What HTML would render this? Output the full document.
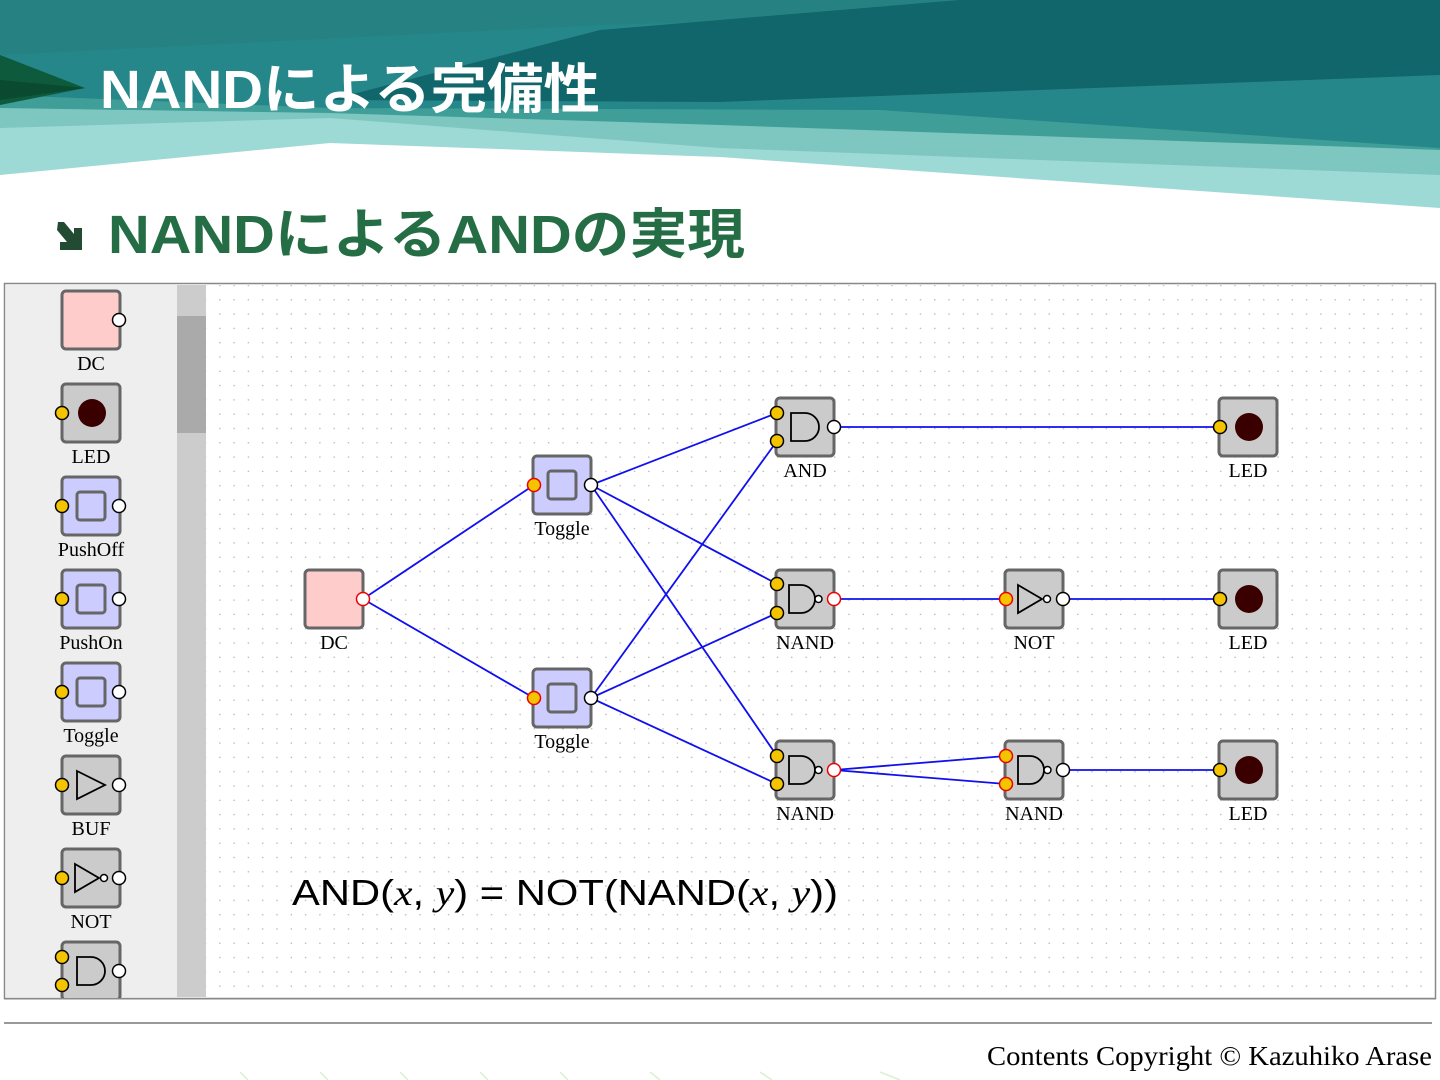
<!DOCTYPE html>
<html><head><meta charset="utf-8"><style>html,body{margin:0;padding:0;background:#fff}svg{display:block}</style></head>
<body>
<svg width="1440" height="1080" viewBox="0 0 1440 1080" xmlns="http://www.w3.org/2000/svg">
<defs>
<pattern id="dots" x="219" y="299" width="14.3" height="14.3" patternUnits="userSpaceOnUse"><circle cx="0.8" cy="0.8" r="0.8" fill="#b8b8b8"/></pattern>
<clipPath id="sb"><rect x="5" y="285" width="201" height="713"/></clipPath>
<g id="box"><rect x="-29" y="-29" width="58" height="58" rx="4" fill="#cbcbcb" stroke="#666" stroke-width="3"/></g>
<g id="and"><path d="M-14,-14 H0 A14,14 0 0 1 0,14 H-14 Z" fill="none" stroke="#000" stroke-width="1.8"/></g>
<g id="nand"><path d="M-16,-14 H-4 A14,14 0 0 1 -4,14 H-16 Z" fill="none" stroke="#000" stroke-width="1.8"/><circle cx="13.5" cy="0" r="3.5" fill="#fff" stroke="#000" stroke-width="1.5"/></g>
<g id="not"><path d="M-16,-14 L8,0 L-16,14 Z" fill="none" stroke="#000" stroke-width="1.8"/><circle cx="13" cy="0" r="3.5" fill="#fff" stroke="#000" stroke-width="1.5"/></g>
<g id="buf"><path d="M-14,-14 L14,0 L-14,14 Z" fill="none" stroke="#000" stroke-width="1.8"/></g>
<g id="tog"><rect x="-29" y="-29" width="58" height="58" rx="4" fill="#ccccff" stroke="#666" stroke-width="3"/><rect x="-14" y="-14" width="28" height="28" rx="3" fill="#ccccff" stroke="#666" stroke-width="3"/></g>
<g id="dc"><rect x="-29" y="-29" width="58" height="58" rx="4" fill="#ffcccc" stroke="#666" stroke-width="3"/></g>
<g id="led"><rect x="-29" y="-29" width="58" height="58" rx="4" fill="#cbcbcb" stroke="#666" stroke-width="3"/><circle cx="1" cy="0" r="14" fill="#3a0000"/></g>
<circle id="pin" r="6.5" fill="#f5c400" stroke="#000" stroke-width="1.5"/>
<circle id="pinr" r="6.5" fill="#f5c400" stroke="#e00" stroke-width="1.5"/>
<circle id="pout" r="6.5" fill="#fff" stroke="#000" stroke-width="1.5"/>
<circle id="poutr" r="6.5" fill="#fff" stroke="#e00" stroke-width="1.5"/>
</defs>

<!-- header -->
<polygon points="0,0 1440,0 1440,208 720,157 330,143 0,175" fill="#9dd9d5"/>
<polygon points="0,0 1440,0 1440,175 720,148 330,118 0,128" fill="#7ec6c0"/>
<polygon points="0,0 1440,0 1440,150 720,125 330,113 0,108" fill="#3f9e97"/>
<polygon points="0,0 1440,0 1440,148 880,110 330,108 0,95" fill="#258789"/>
<polygon points="0,0 1440,0 600,25 0,55" fill="#258182"/>
<polygon points="330,100 600,30 960,0 1440,0 1440,75 720,102" fill="#10666a"/>
<polygon points="0,55 85,88 0,105" fill="#0e5a3c"/>
<polygon points="0,80 85,88 0,100" fill="#0a4a30"/>
<text x="100" y="108" font-family="'Liberation Sans','Noto Sans CJK JP',sans-serif" font-weight="bold" font-size="54" fill="#fff" textLength="500" lengthAdjust="spacingAndGlyphs">NANDによる完備性</text>

<!-- subtitle -->
<polygon points="58,222 64,222 74,234 74,228 82,228 82,250 60,250 60,242 67,242 57,230" fill="#234a32"/>
<text x="108" y="253" font-family="'Liberation Sans','Noto Sans CJK JP',sans-serif" font-weight="bold" font-size="54" fill="#256e45" textLength="637" lengthAdjust="spacingAndGlyphs">NANDによるANDの実現</text>

<!-- canvas frame -->
<rect x="4.5" y="283.5" width="1431" height="715" fill="#fff" stroke="#888" stroke-width="1.5"/>
<rect x="206" y="285" width="1228" height="712" fill="url(#dots)"/>
<rect x="6" y="285" width="171" height="712" fill="#eeeeee"/>
<rect x="177" y="285" width="29" height="712" fill="#cccccc"/>
<rect x="177" y="316" width="29" height="117" fill="#aaaaaa"/>

<!-- sidebar -->
<g clip-path="url(#sb)" font-family="'Liberation Serif',serif" font-size="20" text-anchor="middle" fill="#000">
<use href="#dc" x="91" y="320"/><use href="#pout" x="119" y="320"/><text x="91" y="370">DC</text>
<use href="#led" x="91" y="413"/><use href="#pin" x="62" y="413"/><text x="91" y="463">LED</text>
<use href="#tog" x="91" y="506"/><use href="#pin" x="62" y="506"/><use href="#pout" x="119" y="506"/><text x="91" y="556">PushOff</text>
<use href="#tog" x="91" y="599"/><use href="#pin" x="62" y="599"/><use href="#pout" x="119" y="599"/><text x="91" y="649">PushOn</text>
<use href="#tog" x="91" y="692"/><use href="#pin" x="62" y="692"/><use href="#pout" x="119" y="692"/><text x="91" y="742">Toggle</text>
<use href="#box" x="91" y="785"/><use href="#buf" x="91" y="785"/><use href="#pin" x="62" y="785"/><use href="#pout" x="119" y="785"/><text x="91" y="835">BUF</text>
<use href="#box" x="91" y="878"/><use href="#not" x="91" y="878"/><use href="#pin" x="62" y="878"/><use href="#pout" x="119" y="878"/><text x="91" y="928">NOT</text>
<use href="#box" x="91" y="971"/><use href="#and" x="91" y="971"/><use href="#pin" x="62" y="957"/><use href="#pin" x="62" y="985"/><use href="#pout" x="119" y="971"/>
</g>
<rect x="4" y="998" width="1432" height="1.5" fill="#888"/>

<!-- components -->
<g font-family="'Liberation Serif',serif" font-size="20" text-anchor="middle" fill="#000">
<use href="#dc" x="334" y="599"/><text x="334" y="649">DC</text>
<use href="#tog" x="562" y="485"/><text x="562" y="535">Toggle</text>
<use href="#tog" x="562" y="698"/><text x="562" y="748">Toggle</text>
<use href="#box" x="805" y="427"/><use href="#and" x="805" y="427"/><text x="805" y="477">AND</text>
<use href="#box" x="805" y="599"/><use href="#nand" x="805" y="599"/><text x="805" y="649">NAND</text>
<use href="#box" x="805" y="770"/><use href="#nand" x="805" y="770"/><text x="805" y="820">NAND</text>
<use href="#box" x="1034" y="599"/><use href="#not" x="1034" y="599"/><text x="1034" y="649">NOT</text>
<use href="#box" x="1034" y="770"/><use href="#nand" x="1034" y="770"/><text x="1034" y="820">NAND</text>
<use href="#led" x="1248" y="427"/><text x="1248" y="477">LED</text>
<use href="#led" x="1248" y="599"/><text x="1248" y="649">LED</text>
<use href="#led" x="1248" y="770"/><text x="1248" y="820">LED</text>
</g>

<!-- wires -->
<g stroke="#1010ee" stroke-width="1.8" fill="none">
<line x1="363" y1="599" x2="534" y2="485"/>
<line x1="363" y1="599" x2="534" y2="698"/>
<line x1="591" y1="485" x2="777" y2="413"/>
<line x1="591" y1="485" x2="777" y2="584"/>
<line x1="591" y1="485" x2="777" y2="756"/>
<line x1="591" y1="698" x2="777" y2="441"/>
<line x1="591" y1="698" x2="777" y2="613"/>
<line x1="591" y1="698" x2="777" y2="784"/>
<line x1="834" y1="427" x2="1220" y2="427"/>
<line x1="834" y1="599" x2="1006" y2="599"/>
<line x1="1063" y1="599" x2="1220" y2="599"/>
<line x1="834" y1="770" x2="1006" y2="756"/>
<line x1="834" y1="770" x2="1006" y2="784"/>
<line x1="1063" y1="770" x2="1220" y2="770"/>
</g>

<!-- ports -->
<use href="#poutr" x="363" y="599"/>
<use href="#pinr" x="534" y="485"/><use href="#pout" x="591" y="485"/>
<use href="#pinr" x="534" y="698"/><use href="#pout" x="591" y="698"/>
<use href="#pin" x="777" y="413"/><use href="#pin" x="777" y="441"/><use href="#pout" x="834" y="427"/>
<use href="#pin" x="777" y="584"/><use href="#pin" x="777" y="613"/><use href="#poutr" x="834" y="599"/>
<use href="#pin" x="777" y="756"/><use href="#pin" x="777" y="784"/><use href="#poutr" x="834" y="770"/>
<use href="#pinr" x="1006" y="599"/><use href="#pout" x="1063" y="599"/>
<use href="#pinr" x="1006" y="756"/><use href="#pinr" x="1006" y="784"/><use href="#pout" x="1063" y="770"/>
<use href="#pin" x="1220" y="427"/><use href="#pin" x="1220" y="599"/><use href="#pin" x="1220" y="770"/>

<!-- formula -->
<text x="292" y="905" font-family="'Liberation Sans',sans-serif" font-size="36" fill="#000" textLength="546" lengthAdjust="spacingAndGlyphs">AND(<tspan font-family="'Liberation Serif',serif" font-style="italic">x</tspan>, <tspan font-family="'Liberation Serif',serif" font-style="italic">y</tspan>) = NOT(NAND(<tspan font-family="'Liberation Serif',serif" font-style="italic">x</tspan>, <tspan font-family="'Liberation Serif',serif" font-style="italic">y</tspan>))</text>

<!-- footer -->
<rect x="4" y="1022" width="1428" height="2" fill="#999"/>
<text x="987" y="1065" font-family="'Liberation Serif',serif" font-size="27" fill="#000" textLength="445" lengthAdjust="spacingAndGlyphs">Contents Copyright © Kazuhiko Arase</text>
<g stroke="#d8f0d0" stroke-width="1.5"><line x1="240" y1="1072" x2="248" y2="1080"/><line x1="320" y1="1072" x2="328" y2="1080"/><line x1="400" y1="1072" x2="408" y2="1080"/><line x1="480" y1="1072" x2="488" y2="1080"/><line x1="560" y1="1072" x2="568" y2="1080"/><line x1="650" y1="1072" x2="660" y2="1080"/><line x1="760" y1="1072" x2="772" y2="1080"/><line x1="880" y1="1072" x2="900" y2="1080"/></g>
</svg>
</body></html>
